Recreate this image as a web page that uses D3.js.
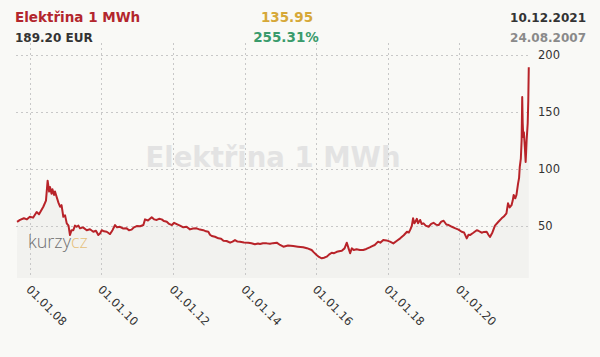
<!DOCTYPE html>
<html><head><meta charset="utf-8">
<script src="https://cdn.jsdelivr.net/npm/d3@7"></script>
<style>
html,body{margin:0;padding:0;background:#f9f9f6;}
svg{display:block;}
</style></head>
<body>
<svg id="chart" width="600" height="357"></svg>
<script>
const title = "Elektřina 1 MWh";
const lastValueLabel = "189.20 EUR";
const changeAbs = "135.95";
const changePct = "255.31%";
const lastDate = "10.12.2021";
const firstDate = "24.08.2007";
const yTicks = [50, 100, 150, 200];
const xTickDates = ["2008-01-01","2010-01-01","2012-01-01","2014-01-01","2016-01-01","2018-01-01","2020-01-01"];
const xTickLabels = ["01.01.08","01.01.10","01.01.12","01.01.14","01.01.16","01.01.18","01.01.20"];

const dates = [
"2007-08-24","2007-09-23","2007-11-02","2007-12-03","2008-01-02","2008-02-03","2008-03-11","2008-04-04","2008-05-18","2008-06-14",
"2008-07-01","2008-07-16","2008-07-25","2008-08-10","2008-08-19","2008-09-05","2008-09-14","2008-10-02","2008-10-20","2008-11-05",
"2008-11-20","2008-12-08","2008-12-26","2009-01-12","2009-01-30","2009-02-14","2009-03-02","2009-03-20","2009-04-06","2009-04-23",
"2009-05-11","2009-05-27","2009-06-27","2009-08-04","2009-09-06","2009-10-10","2009-11-06","2009-11-30","2009-12-17","2010-01-04",
"2010-01-27","2010-02-24","2010-03-14","2010-03-30","2010-04-24","2010-05-20","2010-06-09","2010-07-09","2010-08-08","2010-09-16",
"2010-10-09","2010-11-05","2010-11-29","2010-12-27","2011-01-31","2011-03-05","2011-03-22","2011-04-21","2011-05-29","2011-06-22",
"2011-07-19","2011-08-12","2011-09-08","2011-10-02","2011-10-30","2011-11-23","2011-12-21","2012-01-13","2012-02-08","2012-03-13",
"2012-04-16","2012-05-18","2012-06-23","2012-07-23","2012-08-29","2012-10-02","2012-11-06","2012-12-03","2012-12-27","2013-01-13",
"2013-01-31","2013-03-05","2013-04-09","2013-05-06","2013-05-30","2013-07-01","2013-08-06","2013-08-31","2013-09-25","2013-10-21",
"2013-11-15","2013-12-26","2014-02-08","2014-03-12","2014-04-16","2014-05-18","2014-06-07","2014-07-07","2014-08-14","2014-09-17",
"2014-10-18","2014-11-25","2014-12-29","2015-02-01","2015-03-20","2015-05-12","2015-06-29","2015-08-22","2015-09-29","2015-11-16",
"2015-12-09","2016-01-06","2016-01-30","2016-02-27","2016-03-21","2016-04-18","2016-05-11","2016-06-08","2016-07-02","2016-07-30",
"2016-08-22","2016-09-19","2016-10-17","2016-11-09","2016-11-27","2016-12-13","2016-12-30","2017-01-19","2017-02-17","2017-03-22",
"2017-04-25","2017-05-27","2017-07-01","2017-07-26","2017-08-21","2017-09-24","2017-10-17","2017-11-16","2017-12-19","2018-01-24",
"2018-02-27","2018-04-01","2018-05-08","2018-06-13","2018-07-16","2018-08-04","2018-08-20","2018-09-04","2018-09-16","2018-09-29",
"2018-10-10","2018-10-25","2018-11-06","2018-11-27","2018-12-13","2019-01-01","2019-01-23","2019-02-22","2019-03-20","2019-04-13",
"2019-05-11","2019-06-04","2019-07-01","2019-07-25","2019-08-22","2019-09-15","2019-10-18","2019-11-23","2019-12-24","2020-01-25",
"2020-02-18","2020-03-17","2020-04-04","2020-04-19","2020-05-23","2020-06-27","2020-07-13","2020-08-16","2020-09-09","2020-10-06",
"2020-10-24","2020-11-09","2020-12-04","2020-12-30","2021-02-03","2021-03-08","2021-03-30","2021-04-26","2021-05-12","2021-05-29",
"2021-06-17","2021-06-29","2021-07-09","2021-07-25","2021-08-06","2021-08-23","2021-09-02","2021-09-09","2021-09-20","2021-09-28",
"2021-10-04","2021-10-09","2021-10-15","2021-10-21","2021-10-31","2021-11-08","2021-11-13","2021-11-18","2021-11-29","2021-12-05",
"2021-12-10"
];
const values = [
53.25,55,56.5,55.5,57.8,57,62,60,66.6,72,
89.5,80,84,78,82,77,80,75,70,66.6,
68,57.8,59,52,50,41.7,46,46,50,49,
50,47.6,48.5,46,46.8,44.6,45.5,41.7,43,46,
45,44.6,43.5,42.6,46,50.5,48.5,49,47.5,47.6,
46,46.5,48.5,49.6,49.5,50.5,55.5,54.5,57.3,55.5,
55,56,55.5,54,53.4,51.5,50.5,52.5,51.4,50,
48.5,49,46.7,47.5,47.6,46.5,46,45,44.6,42,
40.9,40.2,38.8,38.5,36.7,36.5,35,36,37.3,36,
35.9,35.2,35,34.5,33.6,34.2,33.8,34.5,34.4,34,
34.6,35,33,31.5,32.5,32,31.5,30.9,30.2,28.6,
26.5,24.2,22.5,21.3,21.8,22.7,24.5,26.2,25.8,27,
27.5,28,30,35,30,25.7,30,28.5,29.2,28.5,
28.6,29.5,30.9,32,33,35.9,35,37.3,37,35.9,
34.4,36.5,38.8,41.5,44.6,44,46.7,50,56.4,52,
53.4,56,52,55,51.5,52,50,49,51.5,52.5,
50.8,50.5,53.5,54.3,51,50.5,49,47.6,46.5,44.6,
44,38.8,42,41.7,43.7,46,45.5,43.8,44.5,44.6,
42,40,44,50,53.4,56.4,58,60.8,69.6,66,
68,72,76.9,74,76.9,87.2,92,101.7,109,125,
163,140,128,132,119,106,115,125,140,160,
189.2
];

const parse = d3.timeParse("%Y-%m-%d");
const data = dates.map((d,i)=>({date:parse(d), value:values[i]}));

const svg = d3.select("#chart");
const plot = {left:15, right:530, top:43, bottom:278};

const x = d3.scaleTime()
  .domain([parse("2008-01-01"), parse("2020-01-01")])
  .range([29.8, 459.3]);
const y = d3.scaleLinear().domain([0, 200]).range([282.5, 55]);

svg.append("rect").attr("width",600).attr("height",357).attr("fill","#f9f9f6");

// header
const hdr = svg.append("g").attr("font-family","'DejaVu Sans', Verdana, sans-serif").attr("font-weight","bold");
hdr.append("text").attr("x",15).attr("y",22).attr("font-size",13.5).attr("fill","#b3262d").text(title);
hdr.append("text").attr("x",15).attr("y",42).attr("font-size",12).attr("fill","#333").text(lastValueLabel);
hdr.append("text").attr("x",287).attr("y",22).attr("text-anchor","middle").attr("font-size",13.5).attr("fill","#d6a838").text(changeAbs);
hdr.append("text").attr("x",286).attr("y",42).attr("text-anchor","middle").attr("font-size",13.5).attr("fill","#3a9b6c").text(changePct);
hdr.append("text").attr("x",586).attr("y",22).attr("text-anchor","end").attr("font-size",12).attr("fill","#333").text(lastDate);
hdr.append("text").attr("x",586).attr("y",42).attr("text-anchor","end").attr("font-size",12).attr("fill","#8a8a8a").text(firstDate);

// watermark
svg.append("text").attr("x",273).attr("y",167).attr("text-anchor","middle")
  .attr("font-family","'DejaVu Sans', Verdana, sans-serif").attr("font-weight","bold")
  .attr("font-size",27.5).attr("fill","#e3e3e3").text(title);

// area under line
const area = d3.area().x(d=>x(d.date)).y0(plot.bottom).y1(d=>y(d.value));
svg.append("path").datum(data).attr("d",area).attr("fill","#efefed").attr("opacity",0.7);

// gridlines
const grid = svg.append("g").attr("stroke","#c8c8c8").attr("stroke-width",1).attr("stroke-dasharray","2,3");
grid.selectAll("line.v").data(xTickDates).enter().append("line")
  .attr("x1",d=>Math.round(x(parse(d)))+0.5).attr("x2",d=>Math.round(x(parse(d)))+0.5)
  .attr("y1",plot.top).attr("y2",plot.bottom);
grid.selectAll("line.h").data(yTicks).enter().append("line")
  .attr("x1",16).attr("x2",plot.right)
  .attr("y1",d=>Math.round(y(d))+0.5).attr("y2",d=>Math.round(y(d))+0.5);

// kurzy.cz logo
const logo = svg.append("text").attr("x",28).attr("y",248).attr("font-family","'Open Sans', Lato, sans-serif")
  .attr("font-weight",300).attr("font-size",18);
logo.append("tspan").attr("fill","#6f6f6f").text("kurzy");
logo.append("tspan").attr("fill","#e6c07a").text("cz");

// line
const line = d3.line().x(d=>x(d.date)).y(d=>y(d.value));
svg.append("path").datum(data).attr("d",line).attr("fill","none")
  .attr("stroke","#b82329").attr("stroke-width",2).attr("stroke-linejoin","round");

// y labels
svg.append("g").selectAll("text").data(yTicks).enter().append("text")
  .attr("x",538).attr("y",d=>y(d)).attr("dy","0.36em")
  .attr("font-family","'DejaVu Sans', Verdana, sans-serif").attr("font-size",11.5).attr("fill","#333")
  .text(d=>d);

// x labels
svg.append("g").selectAll("text").data(xTickDates).enter().append("text")
  .attr("transform",d=>`translate(${x(parse(d))+2},284) rotate(45)`)
  .attr("dy","0.76em")
  .attr("font-family","'DejaVu Sans', Verdana, sans-serif").attr("font-size",11.5).attr("fill","#333")
  .text((d,i)=>xTickLabels[i]);
</script>
</body></html>
